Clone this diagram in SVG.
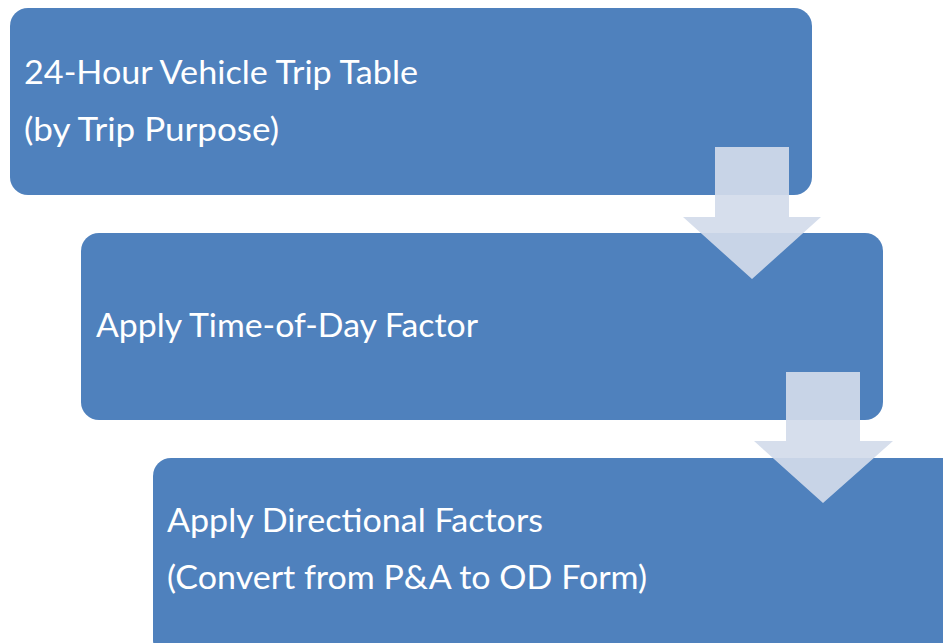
<svg xmlns="http://www.w3.org/2000/svg" width="943" height="643" viewBox="0 0 943 643">
<defs>
<style>
.box{fill:#4f81bd;}
.t{fill:#ffffff;font-family:Lato,"Open Sans",sans-serif;font-size:33px;}
.arr{fill:#d3dbea;fill-opacity:0.92;}
</style>
</defs>
<rect width="943" height="643" fill="#ffffff"/>
<g id="node1">
<rect class="box" x="10" y="8" width="802" height="187" rx="18"/>
<text class="t" x="24" y="84" textLength="394" lengthAdjust="spacingAndGlyphs">24-Hour Vehicle Trip Table</text>
<text class="t" x="24" y="141" textLength="255" lengthAdjust="spacingAndGlyphs">(by Trip Purpose)</text>
</g>
<g id="node2">
<rect class="box" x="81" y="233" width="802" height="187" rx="18"/>
<text class="t" x="96" y="337" textLength="382" lengthAdjust="spacingAndGlyphs">Apply Time-of-Day Factor</text>
</g>
<g id="node3">
<rect class="box" x="153" y="458" width="810" height="200" rx="18"/>
<text class="t" x="167" y="532" textLength="376" lengthAdjust="spacingAndGlyphs">Apply Directional Factors</text>
<text class="t" x="167" y="589" textLength="480" lengthAdjust="spacingAndGlyphs">(Convert from P&amp;A to OD Form)</text>
</g>
<g id="connectors">
<polygon class="arr" points="715,147 789,147 789,217 821,217 752,279 683,217 715,217"/>
<polygon class="arr" points="786,372 860,372 860,441 893,441 823,503 754,441 786,441"/>
</g>
</svg>
